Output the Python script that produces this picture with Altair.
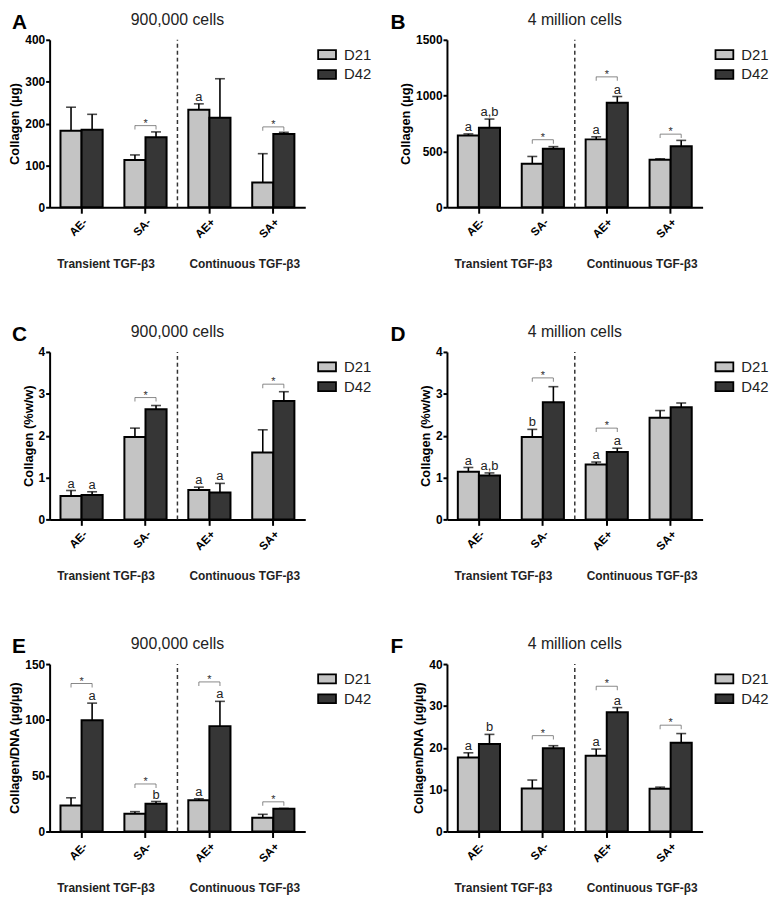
import altair as alt
import pandas as pd

GROUPS = ["AE-", "SA-", "AE+", "SA+"]
SERIES = ["D21", "D42"]
COLORS = ["#c4c4c4", "#363636"]
FONT = "Liberation Sans"

# ---------------- Panel A ----------------
A_D21 = [183, 113, 233, 59]
A_D42 = [185, 167, 214, 175]
A_D21_ERR = [56, 12, 14, 69]
A_D42_ERR = [37, 13, 93, 4]
A_D21_LAB = ["", "", "a", ""]
A_D42_LAB = ["", "", "", ""]
A_BRACKET = [None, 195, None, 192]
A_TICKS = [0, 100, 200, 300, 400]

# ---------------- Panel B ----------------
B_D21 = [643, 390, 608, 426]
B_D42 = [713, 525, 936, 546]
B_D21_ERR = [14, 65, 23, 8]
B_D42_ERR = [77, 18, 56, 53]
B_D21_LAB = ["a", "", "a", ""]
B_D42_LAB = ["a,b", "", "a", ""]
B_BRACKET = [None, 605, 1168, 655]
B_TICKS = [0, 500, 1000, 1500]

# ---------------- Panel C ----------------
C_D21 = [0.56, 1.97, 0.70, 1.60]
C_D42 = [0.58, 2.63, 0.64, 2.83]
C_D21_ERR = [0.13, 0.21, 0.07, 0.54]
C_D42_ERR = [0.08, 0.09, 0.22, 0.22]
C_D21_LAB = ["a", "", "a", ""]
C_D42_LAB = ["a", "", "a", ""]
C_BRACKET = [None, 2.91, None, 3.23]
C_TICKS = [0, 1, 2, 3, 4]

# ---------------- Panel D ----------------
D_D21 = [1.14, 1.97, 1.31, 2.43]
D_D42 = [1.05, 2.80, 1.61, 2.68]
D_D21_ERR = [0.10, 0.18, 0.06, 0.17]
D_D42_ERR = [0.06, 0.37, 0.09, 0.10]
D_D21_LAB = ["a", "b", "a", ""]
D_D42_LAB = ["a,b", "", "a", ""]
D_BRACKET = [None, 3.38, 2.18, None]
D_TICKS = [0, 1, 2, 3, 4]

# ---------------- Panel E ----------------
E_D21 = [23.4, 16.0, 28.1, 12.4]
E_D42 = [99.7, 24.9, 94.4, 20.4]
E_D21_ERR = [6.8, 1.8, 1.2, 3.0]
E_D42_ERR = [15.3, 2.0, 22.2, 0.3]
E_D21_LAB = ["", "", "a", ""]
E_D42_LAB = ["a", "b", "a", ""]
E_BRACKET = [132.5, 42.6, 134, 26.6]
E_TICKS = [0, 50, 100, 150]

# ---------------- Panel F ----------------
F_D21 = [17.7, 10.3, 18.1, 10.2]
F_D42 = [20.9, 19.9, 28.5, 21.2]
F_D21_ERR = [1.1, 2.0, 1.6, 0.4]
F_D42_ERR = [2.3, 0.6, 1.1, 2.2]
F_D21_LAB = ["a", "", "a", ""]
F_D42_LAB = ["b", "", "a", ""]
F_BRACKET = [None, 22.9, 34.7, 25.4]
F_TICKS = [0, 10, 20, 30, 40]

GROUP_LABELS = ["Transient TGF-\u03b23", "Continuous TGF-\u03b23"]

W, H = 258, 169
PAD_IN, PAD_OUT = 0.34, 0.17
STEP = W / (len(GROUPS) - PAD_IN + 2 * PAD_OUT)


def make_panel(letter, title, ytitle, ticks, d21, d42, e21, e42, l21, l42, brackets, letter_x):
    ymax = ticks[-1]
    df = pd.DataFrame({
        "group": GROUPS * 2,
        "series": ["D21"] * 4 + ["D42"] * 4,
        "mean": d21 + d42,
        "err": e21 + e42,
        "lab": l21 + l42,
    })
    df["top"] = df["mean"] + df["err"]
    labs = df[df["lab"] != ""]

    br = pd.DataFrame({"group": GROUPS, "b": brackets}).dropna()
    br_ends = pd.concat([br.assign(series=s) for s in SERIES], ignore_index=True)
    br["star"] = "*"

    xaxis = alt.Axis(title=None, labelAngle=-45, domainColor="black", domainWidth=2,
                     tickColor="black", tickWidth=2, tickSize=6, labelPadding=3,
                     labelFont=FONT, labelFontWeight="bold", labelFontSize=11.5,
                     labelColor="black")
    xscale = alt.Scale(domain=GROUPS, paddingInner=PAD_IN, paddingOuter=PAD_OUT)
    yaxis = alt.Axis(title=ytitle, values=ticks, format="d", grid=False,
                     domainColor="black", domainWidth=2, tickColor="black",
                     tickWidth=2, tickSize=4, labelPadding=1, labelFont=FONT,
                     labelFontWeight="bold", labelFontSize=12, labelColor="black",
                     titleFont=FONT, titleFontWeight="bold", titleFontSize=13,
                     titleColor="black", titlePadding=3)
    yscale = alt.Scale(domain=[0, ymax], nice=False)

    def xq(**kw):
        return alt.X("group:N", sort=GROUPS, scale=xscale, axis=xaxis, **kw)

    def yq(field):
        return alt.Y(field, scale=yscale, axis=yaxis)

    xo = alt.XOffset("series:N", sort=SERIES,
                     scale=alt.Scale(domain=SERIES, paddingInner=0, paddingOuter=0))

    base = alt.Chart(df)
    err = base.mark_rule(color="black", strokeWidth=1.6).encode(
        x=xq(), xOffset=xo, y=yq("mean:Q"), y2="top:Q")
    caps = base.mark_tick(color="black", thickness=1.6, size=10).encode(
        x=xq(), xOffset=xo, y=yq("top:Q"))
    bars = base.mark_bar(stroke="black", strokeWidth=2).encode(
        x=xq(), xOffset=xo, y=yq("mean:Q"),
        color=alt.Color("series:N", sort=SERIES,
                        scale=alt.Scale(domain=SERIES, range=COLORS),
                        legend=alt.Legend(title=None, orient="none", legendX=W + 12,
                                          legendY=5,
                                          symbolType="M-1,-0.5H1V0.5H-1Z",
                                          symbolSize=324, symbolStrokeColor="black",
                                          symbolStrokeWidth=1.8, symbolOpacity=1,
                                          labelFont=FONT, labelFontSize=15,
                                          labelColor="#222", labelOffset=7,
                                          rowPadding=1)))
    letters = alt.Chart(labs).mark_text(font=FONT, fontSize=13, color="#222",
                                        baseline="alphabetic", dy=-3).encode(
        x=xq(), xOffset=xo, y=yq("top:Q"), text="lab:N")

    layers = [err, caps, bars, letters]
    if len(br):
        br_line = alt.Chart(br).mark_tick(color="#555", thickness=1, size=STEP * (1 - PAD_IN) / 2).encode(
            x=xq(), y=yq("b:Q"))
        br_end = alt.Chart(br_ends).mark_tick(orient="vertical", color="#555", thickness=1,
                                              size=4, yOffset=2).encode(
            x=xq(), xOffset=xo, y=yq("b:Q"))
        star = alt.Chart(br).mark_text(font=FONT, fontSize=11, color="#333",
                                       baseline="alphabetic", dy=1).encode(
            x=xq(), y=yq("b:Q"), text="star:N")
        layers += [br_line, br_end, star]

    div = pd.DataFrame({"group": ["AE+"], "y0": [0], "y1": [ymax]})
    divider = alt.Chart(div).mark_rule(color="#333", strokeWidth=1.5, strokeDash=[4, 3],
                                       xOffset=-STEP * PAD_IN / 2).encode(
        x=xq(bandPosition=0), y=yq("y0:Q"), y2="y1:Q")
    layers.append(divider)

    one = pd.DataFrame({"t": [letter], "title": [title],
                        "g1": [GROUP_LABELS[0]], "g2": [GROUP_LABELS[1]]})
    tchart = alt.Chart(one)
    layers.append(tchart.mark_text(font=FONT, fontSize=21, fontWeight="bold", color="black",
                                   align="left", baseline="alphabetic").encode(
        x=alt.value(letter_x), y=alt.value(-11), text="t:N"))
    layers.append(tchart.mark_text(font=FONT, fontSize=16, color="#222",
                                   align="center", baseline="middle").encode(
        x=alt.value(W / 2), y=alt.value(-20), text="title:N"))
    layers.append(tchart.mark_text(font=FONT, fontSize=12, fontWeight="bold", color="#222",
                                   align="center", baseline="middle").encode(
        x=alt.value(57), y=alt.value(H + 57), text="g1:N"))
    layers.append(tchart.mark_text(font=FONT, fontSize=12, fontWeight="bold", color="#222",
                                   align="center", baseline="middle").encode(
        x=alt.value(197), y=alt.value(H + 57), text="g2:N"))

    return alt.layer(*layers).properties(width=W, height=H)


pA = make_panel("A", "900,000 cells", "Collagen (\u00b5g)", A_TICKS, A_D21, A_D42,
                A_D21_ERR, A_D42_ERR, A_D21_LAB, A_D42_LAB, A_BRACKET, -38)
pB = make_panel("B", "4 million cells", "Collagen (\u00b5g)", B_TICKS, B_D21, B_D42,
                B_D21_ERR, B_D42_ERR, B_D21_LAB, B_D42_LAB, B_BRACKET, -57)
pC = make_panel("C", "900,000 cells", "Collagen (%w/w)", C_TICKS, C_D21, C_D42,
                C_D21_ERR, C_D42_ERR, C_D21_LAB, C_D42_LAB, C_BRACKET, -38)
pD = make_panel("D", "4 million cells", "Collagen (%w/w)", D_TICKS, D_D21, D_D42,
                D_D21_ERR, D_D42_ERR, D_D21_LAB, D_D42_LAB, D_BRACKET, -57)
pE = make_panel("E", "900,000 cells", "Collagen/DNA (\u00b5g/\u00b5g)", E_TICKS, E_D21, E_D42,
                E_D21_ERR, E_D42_ERR, E_D21_LAB, E_D42_LAB, E_BRACKET, -38)
pF = make_panel("F", "4 million cells", "Collagen/DNA (\u00b5g/\u00b5g)", F_TICKS, F_D21, F_D42,
                F_D21_ERR, F_D42_ERR, F_D21_LAB, F_D42_LAB, F_BRACKET, -57)

chart = alt.concat(pA, pB, pC, pD, pE, pF, columns=2,
                   spacing={"row": 146, "column": 143}, bounds="flush").resolve_scale(
    x="independent", y="independent", xOffset="independent", color="independent"
).resolve_legend(color="independent").configure_view(strokeWidth=0).properties(
    background="white", padding=0)

chart.save("out.html", embed_options={"renderer": "svg", "actions": False})
